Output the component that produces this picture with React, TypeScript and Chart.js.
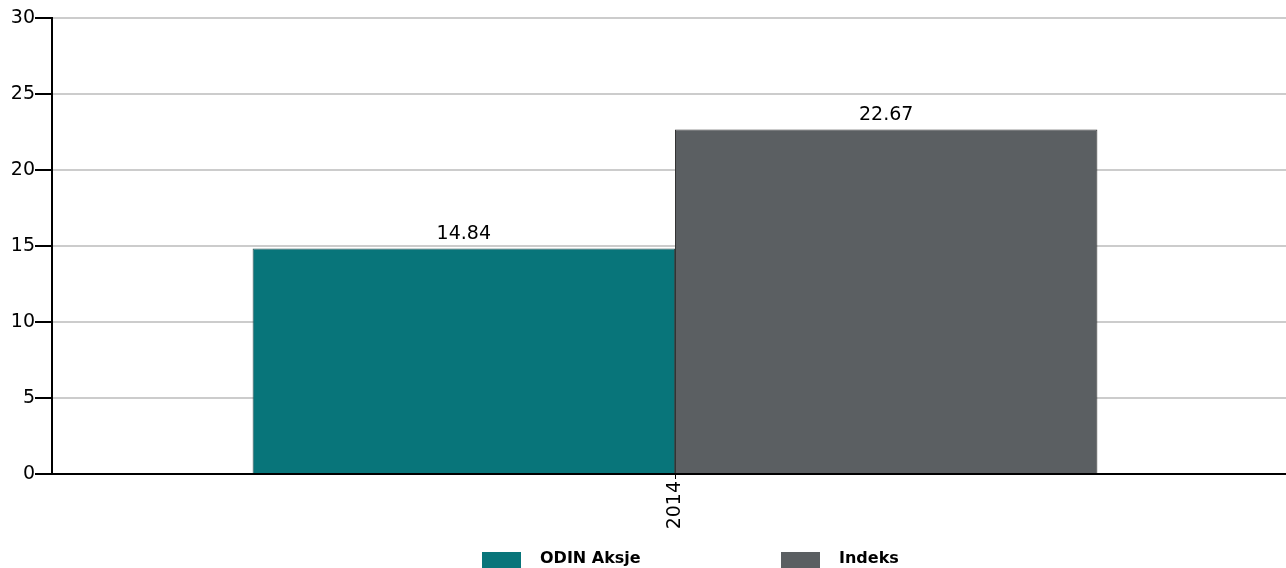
import React, { useEffect, useRef } from "react";
import { Chart, registerables } from "chart.js";

Chart.register(...registerables);

const categories = ["2014"];
const odinValues = [14.84];
const indeksValues = [22.67];
const seriesNames = ["ODIN Aksje", "Indeks"];
const seriesColors = ["#08757A", "#5B5F62"];
const yTicks = [0, 5, 10, 15, 20, 25, 30];

const FONT = "'DejaVu Sans', Verdana, sans-serif";

const valueLabelPlugin = {
  id: "valueLabels",
  afterDatasetsDraw(chart: any) {
    const ctx = chart.ctx;
    ctx.save();
    ctx.font = `19px ${FONT}`;
    ctx.fillStyle = "#000";
    ctx.textAlign = "center";
    ctx.textBaseline = "alphabetic";
    chart.data.datasets.forEach((ds: any, i: number) => {
      const meta = chart.getDatasetMeta(i);
      meta.data.forEach((bar: any, j: number) => {
        const v = ds.data[j];
        ctx.fillText(Number(v).toFixed(2), bar.x, bar.y - 9);
      });
    });
    ctx.restore();
  },
};

const customLegendPlugin = {
  id: "customLegend",
  afterDraw(chart: any) {
    const ctx = chart.ctx;
    const area = chart.chartArea;
    const center = (area.left + area.right) / 2;
    const startX = center - 193;
    const itemSpacing = 299;
    const boxTop = area.bottom + 78;
    ctx.save();
    ctx.font = `bold 16px ${FONT}`;
    ctx.textAlign = "left";
    ctx.textBaseline = "alphabetic";
    chart.data.datasets.forEach((ds: any, i: number) => {
      const x = startX + i * itemSpacing;
      ctx.fillStyle = ds.backgroundColor;
      ctx.fillRect(x, boxTop, 39, 20);
      ctx.fillStyle = "#000";
      ctx.fillText(ds.label, x + 58, boxTop + 11);
    });
    ctx.restore();
  },
};

export default function App() {
  const ref = useRef<HTMLCanvasElement | null>(null);

  useEffect(() => {
    if (!ref.current) return;
    const chart = new Chart(ref.current, {
      type: "bar",
      data: {
        labels: categories,
        datasets: [
          {
            label: seriesNames[0],
            data: odinValues,
            backgroundColor: seriesColors[0],
            borderColor: "#2f4f50",
            borderWidth: 1,
          },
          {
            label: seriesNames[1],
            data: indeksValues,
            backgroundColor: seriesColors[1],
            borderColor: "#333333",
            borderWidth: 1,
          },
        ],
      },
      options: {
        responsive: false,
        animation: false,
        devicePixelRatio: 1,
        layout: { padding: { top: 18, right: 0, bottom: 40, left: 0 } },
        datasets: {
          bar: { barPercentage: 1, categoryPercentage: 0.678 },
        },
        plugins: {
          legend: { display: false },
          tooltip: { enabled: false },
        },
        scales: {
          x: {
            grid: {
              offset: false,
              drawOnChartArea: false,
              drawTicks: true,
              tickLength: 5,
              tickColor: "#000",
              lineWidth: 1,
            },
            border: { color: "#000", width: 2 },
            ticks: {
              color: "#000",
              font: { family: FONT, size: 19 },
              maxRotation: 90,
              minRotation: 90,
              padding: 2,
            },
            afterFit(scale: any) {
              scale.height = 66;
            },
          },
          y: {
            min: 0,
            max: 30,
            afterBuildTicks(scale: any) {
              scale.ticks = yTicks.map((v) => ({ value: v }));
            },
            grid: {
              color: "#cccccc",
              lineWidth: 2,
              tickLength: 17,
              tickColor: "#000",
            },
            border: { color: "#000", width: 2 },
            ticks: {
              color: "#000",
              font: { family: FONT, size: 19 },
              padding: 0,
            },
            afterFit(scale: any) {
              scale.width = 52;
            },
          },
        },
      },
      plugins: [valueLabelPlugin, customLegendPlugin],
    });
    return () => chart.destroy();
  }, []);

  return (
    <div
      style={{
        position: "fixed",
        left: 0,
        top: 0,
        width: 1286,
        height: 568,
        overflow: "hidden",
        background: "#fff",
      }}
    >
      <canvas ref={ref} width={1298} height={580} />
    </div>
  );
}
